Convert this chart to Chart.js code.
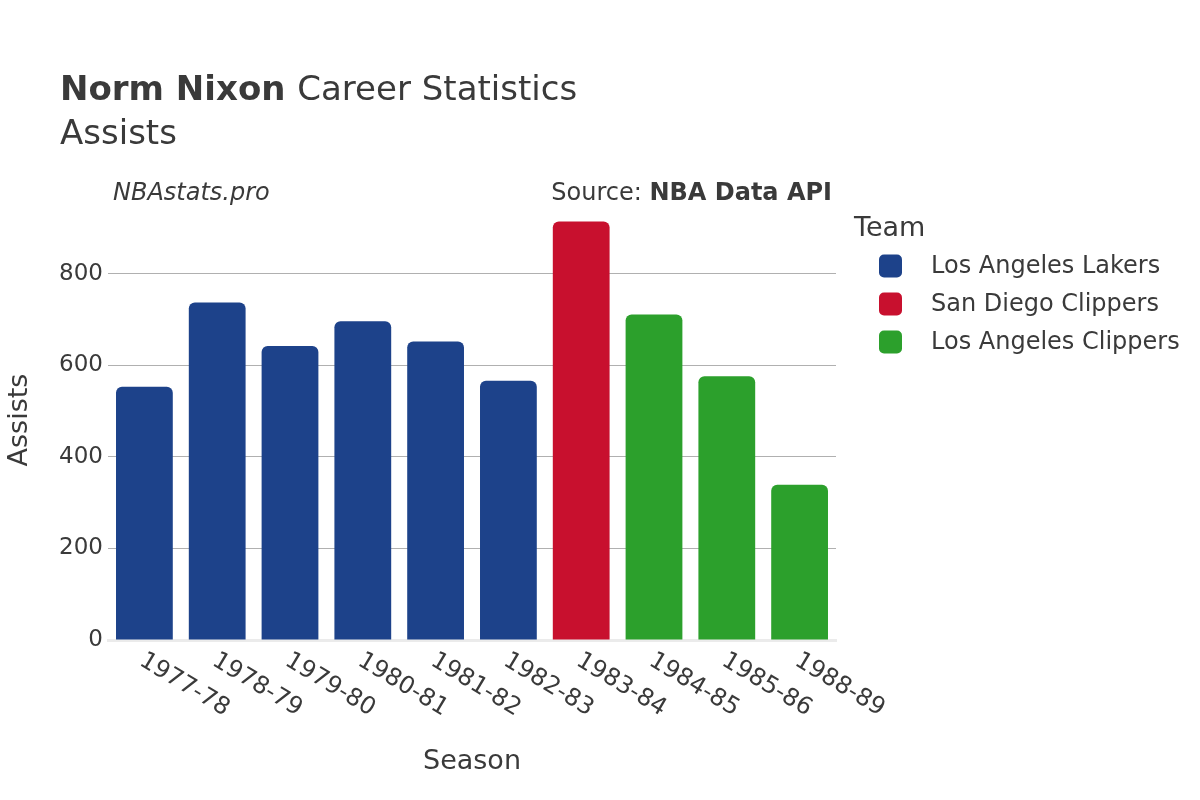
<!DOCTYPE html>
<html>
<head>
<meta charset="utf-8">
<script src="https://cdn.jsdelivr.net/npm/chart.js@4"></script>
<style>
  html, body { margin: 0; padding: 0; background: #fff; }
  #wrap { width: 1200px; height: 800px; position: relative; }
</style>
</head>
<body>
<div id="wrap"><canvas id="chart" width="1200" height="800"></canvas></div>
<script>
const seasons = ['1977-78', '1978-79', '1979-80', '1980-81', '1981-82', '1982-83', '1983-84', '1984-85', '1985-86', '1988-89'];
const teams = ['Los Angeles Lakers', 'San Diego Clippers', 'Los Angeles Clippers'];
const teamColors = ['#1d428a', '#c8102e', '#2ca02c'];
const lakers = [553, 737, 642, 696, 652, 566, null, null, null, null];
const sdClippers = [null, null, null, null, null, null, 914, null, null, null];
const laClippers = [null, null, null, null, null, null, null, 711, 576, 339];
const yTicks = [0, 200, 400, 600, 800];

const FONT = "'DejaVu Sans', sans-serif";
const TXT = '#3a3a3a';

const overlay = {
    id: 'overlay',
    afterDraw(chart) {
        const ctx = chart.ctx;
        const x = chart.scales.x;
        ctx.save();
        ctx.fillStyle = TXT;
        ctx.textBaseline = 'alphabetic';
        // title
        ctx.textAlign = 'left';
        ctx.font = 'bold 34px ' + FONT;
        ctx.fillText('Norm Nixon', 60, 100);
        const w = ctx.measureText('Norm Nixon ').width;
        ctx.font = '34px ' + FONT;
        ctx.fillText('Career Statistics', 60 + w, 100);
        ctx.fillText('Assists', 60, 144);
        // sub texts
        ctx.font = 'italic 24px ' + FONT;
        ctx.fillText('NBAstats.pro', 113, 200);
        ctx.textAlign = 'right';
        ctx.font = 'bold 24px ' + FONT;
        ctx.fillText('NBA Data API', 832, 200);
        const bw = ctx.measureText('NBA Data API').width;
        ctx.font = '24px ' + FONT;
        ctx.fillText('Source: ', 832 - bw, 200);
        // x tick labels, rotated clockwise
        ctx.textAlign = 'left';
        ctx.textBaseline = 'middle';
        ctx.font = '24px ' + FONT;
        seasons.forEach((s, i) => {
            const px = x.getPixelForValue(i);
            ctx.save();
            ctx.translate(px - 3, 659);
            ctx.rotate(31 * Math.PI / 180);
            ctx.fillText(s, 0, 0);
            ctx.restore();
        });
        // axis titles
        ctx.textAlign = 'center';
        ctx.font = '27px ' + FONT;
        ctx.fillText('Season', 472, 762);
        ctx.save();
        ctx.translate(20, 420);
        ctx.rotate(-Math.PI / 2);
        ctx.fillText('Assists', 0, 0);
        ctx.restore();
        // legend
        ctx.textAlign = 'left';
        ctx.font = '27px ' + FONT;
        ctx.fillText('Team', 854, 229);
        ctx.font = '24px ' + FONT;
        ctx.textBaseline = 'middle';
        teams.forEach((t, i) => {
            const cy = 266 + i * 38;
            ctx.fillStyle = teamColors[i];
            ctx.beginPath();
            ctx.roundRect(879, cy - 11.5, 23, 23, 5);
            ctx.fill();
            ctx.fillStyle = TXT;
            ctx.fillText(t, 931, cy + 1);
        });
        ctx.restore();
    }
};

function ds(label, data, color) {
    return {
        label: label,
        data: data,
        backgroundColor: color,
        borderRadius: { topLeft: 6, topRight: 6 },
        borderSkipped: 'bottom',
        barPercentage: 0.78,
        categoryPercentage: 1
    };
}

new Chart(document.getElementById('chart').getContext('2d'), {
    type: 'bar',
    data: {
        labels: seasons,
        datasets: [
            ds(teams[0], lakers, teamColors[0]),
            ds(teams[1], sdClippers, teamColors[1]),
            ds(teams[2], laClippers, teamColors[2])
        ]
    },
    options: {
        responsive: false,
        animation: false,
        layout: { padding: { left: 0, right: 364, top: 205, bottom: 0 } },
        datasets: { bar: { grouped: false } },
        plugins: { legend: { display: false }, title: { display: false }, tooltip: { enabled: false } },
        scales: {
            x: {
                grid: { display: false },
                border: { color: '#ebebeb', width: 3 },
                ticks: { display: false },
                afterFit: s => { s.height = 160; }
            },
            y: {
                min: 0,
                max: 950,
                afterBuildTicks: s => { s.ticks = yTicks.map(v => ({ value: v })); },
                grid: { color: c => c.tick.value === 0 ? 'rgba(0,0,0,0)' : '#b0b0b0', lineWidth: 1, drawTicks: false },
                border: { display: false },
                ticks: { color: TXT, font: { family: FONT, size: 23 }, padding: 5 },
                afterFit: s => { s.width = 108; }
            }
        }
    },
    plugins: [overlay]
});
</script>
</body>
</html>
